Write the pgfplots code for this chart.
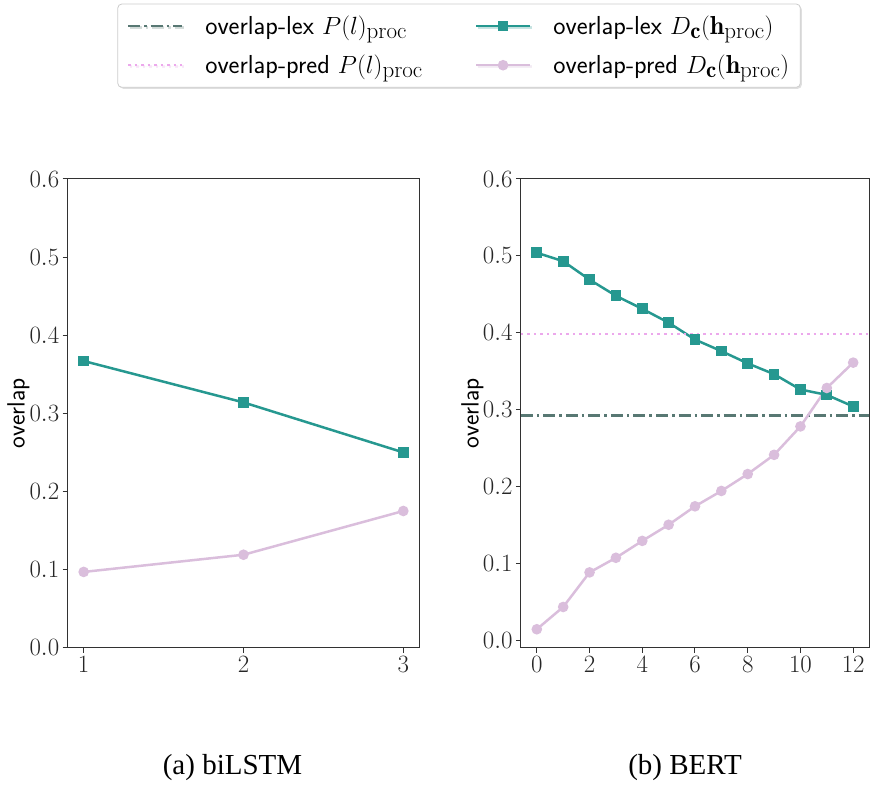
\documentclass[border=0pt]{standalone}
\usepackage{pgfplots}
\pgfplotsset{compat=1.18}
\usetikzlibrary{shadows}
\usepackage{fontspec}
\newfontfamily\capfont{Liberation Serif}
\DeclareMathSizes{26}{26}{23}{18}
\definecolor{teal1}{RGB}{38,152,144}
\definecolor{pinkline}{RGB}{218,190,220}
\definecolor{pinkdot}{RGB}{236,168,236}
\definecolor{dashgray}{RGB}{88,120,115}
\definecolor{spine}{RGB}{50,50,50}
\begin{document}
\begin{tikzpicture}
\path[use as bounding box] (0pt,0pt) rectangle (871pt,787pt);
\pgfplotsset{
  common/.style={
    scale only axis,
    width=351pt, height=468.7pt,
    anchor=south west,
    axis line style={spine, line width=1pt},
    tick align=outside,
    xtick pos=bottom, ytick pos=left,
    major tick length=5pt,
    tick style={spine, line width=1pt},
    ymax=0.6,
    ytick={0,0.1,0.2,0.3,0.4,0.5,0.6},
    yticklabel style={/pgf/number format/.cd, fixed, fixed zerofill, precision=1},
    tick label style={font=\fontsize{25.5}{28}\selectfont, text=black!85},
    ylabel={overlap},
    every axis y label/.style={font=\sffamily\fontsize{25}{28}\selectfont, at={(axis description cs:-0.14,0.5)}, rotate=90, anchor=center},
  },
}
% left axis
\begin{axis}[common, at={(67.7pt,139.3pt)}, width=351.6pt,
  xmin=0.9, xmax=3.1, ymin=0, xtick={1,2,3}]
\addplot[teal1, line width=2.5pt, mark=square*, mark size=4.1pt, mark options={solid}] coordinates {(1,0.367) (2,0.314) (3,0.250)};
\addplot[pinkline, line width=2.5pt, mark=*, mark size=4pt] coordinates {(1,0.097) (2,0.119) (3,0.175)};
\end{axis}
% right axis
\begin{axis}[common, at={(521pt,139.3pt)}, width=348pt,
  xmin=-0.6, xmax=12.6, ymin=-0.01, xtick={0,2,4,6,8,10,12},
  legend columns=2,
  legend cell align=left,
  legend style={at={(-0.178,1.2845)}, anchor=center, draw=black!20, line width=0.8pt, rounded corners=4pt, fill=white,
    drop shadow={shadow xshift=1.5pt, shadow yshift=-1.5pt, opacity=0.25},
    font=\sffamily\fontsize{26}{30}\selectfont, inner xsep=9pt, inner ysep=10pt,
    row sep=15pt,
    /tikz/every odd column/.append style={column sep=20pt},
    /tikz/every even column/.append style={column sep=50pt}},
  legend image code/.code={\draw[mark repeat=2, mark phase=2] plot coordinates {(0pt,0pt) (27pt,0pt) (54pt,0pt)};},
]
\addplot[dashgray, line width=2.5pt, dash pattern=on 12pt off 4pt on 2.5pt off 4pt] coordinates {(-0.6,0.292) (12.6,0.292)};
\addlegendentry{overlap-lex $P(l)_{\mathrm{proc}}$}
\addplot[teal1, line width=2.5pt, mark=square*, mark size=4.1pt] coordinates {
(0,0.504) (1,0.493) (2,0.469) (3,0.448) (4,0.431) (5,0.413) (6,0.391) (7,0.376) (8,0.360) (9,0.346) (10,0.326) (11,0.319) (12,0.304)};
\addlegendentry{overlap-lex $D_{\mathbf{c}}(\mathbf{h}_{\mathrm{proc}})$}
\addplot[pinkdot, line width=2.5pt, dash pattern=on 2.5pt off 4pt] coordinates {(-0.6,0.398) (12.6,0.398)};
\addlegendentry{overlap-pred $P(l)_{\mathrm{proc}}$}
\addplot[pinkline, line width=2.5pt, mark=*, mark size=4pt] coordinates {
(0,0.014) (1,0.043) (2,0.088) (3,0.107) (4,0.129) (5,0.150) (6,0.174) (7,0.194) (8,0.216) (9,0.241) (10,0.278) (11,0.328) (12,0.361)};
\addlegendentry{overlap-pred $D_{\mathbf{c}}(\mathbf{h}_{\mathrm{proc}})$}
\end{axis}
\node[anchor=base, font=\capfont\fontsize{29}{32}\selectfont, inner sep=0pt] at (232.5pt,12pt) {(a) biLSTM};
\node[anchor=base, font=\capfont\fontsize{29}{32}\selectfont, inner sep=0pt] at (685pt,12pt) {(b) BERT};
\end{tikzpicture}
\end{document}
